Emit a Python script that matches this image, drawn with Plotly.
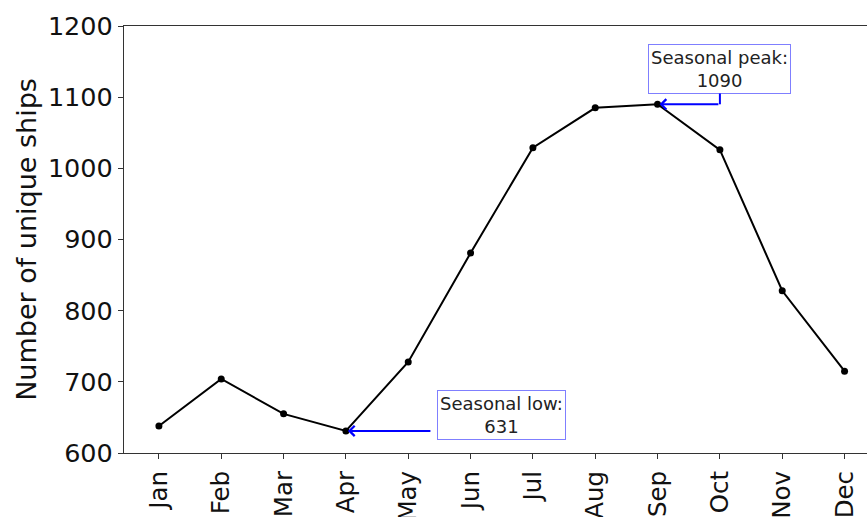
import plotly.graph_objects as go

# Monthly count of unique ships
months = ["Jan", "Feb", "Mar", "Apr", "May", "Jun", "Jul", "Aug", "Sep", "Oct", "Nov", "Dec"]
ships = [638, 704, 655, 631, 728, 881, 1029, 1085, 1090, 1026, 828, 715]
y_ticks = [600, 700, 800, 900, 1000, 1100, 1200]

low_idx = ships.index(min(ships))
peak_idx = ships.index(max(ships))

FONT = "DejaVu Sans"
x = list(range(len(months)))

fig = go.Figure()
fig.add_trace(go.Scatter(
    x=x, y=ships, mode="lines+markers",
    line=dict(color="black", width=2),
    marker=dict(color="black", size=7),
    showlegend=False, hoverinfo="skip",
))

box_style = dict(
    font=dict(family=FONT, size=18, color="#222"),
    bgcolor="white", bordercolor="rgba(0,0,255,0.5)", borderwidth=1,
    borderpad=2, showarrow=False, xref="x", yref="y",
    xanchor="center", yanchor="middle", align="center",
)

# Seasonal peak: label box above-right, elbow arrow down and left to the point
peak_box_x = peak_idx + 1
fig.add_annotation(x=peak_box_x, y=1139,
                   text=f"Seasonal peak:<br>{ships[peak_idx]}", **box_style)
fig.add_shape(type="line", xref="x", yref="y",
              x0=peak_box_x, x1=peak_box_x, y0=1106, y1=ships[peak_idx],
              line=dict(color="blue", width=2))
fig.add_annotation(x=peak_idx, y=ships[peak_idx], ax=peak_box_x, ay=ships[peak_idx],
                   xref="x", yref="y", axref="x", ayref="y", text="",
                   showarrow=True, arrowhead=4, arrowsize=1, arrowwidth=2,
                   arrowcolor="blue", standoff=2)

# Seasonal low: label box to the right, straight arrow left to the point
fig.add_annotation(x=low_idx + 2.5, y=654,
                   text=f"Seasonal low:<br>{ships[low_idx]}", **box_style)
fig.add_annotation(x=low_idx, y=ships[low_idx], ax=low_idx + 1.38, ay=ships[low_idx],
                   xref="x", yref="y", axref="x", ayref="y", text="",
                   showarrow=True, arrowhead=4, arrowsize=1, arrowwidth=2,
                   arrowcolor="blue", standoff=2)

axis_common = dict(
    showgrid=False, zeroline=False, showline=True, linecolor="#333", linewidth=1.2,
    ticks="outside", ticklen=5, tickwidth=1.2, tickcolor="#333",
    automargin=False,
)

fig.update_xaxes(
    range=[-0.56, 11.36], tickmode="array", tickvals=x, ticktext=months,
    tickangle=-90, mirror=True, ticklabelstandoff=2,
    tickfont=dict(family=FONT, size=24.5, color="#111"),
    **axis_common,
)
fig.update_yaxes(
    range=[600, 1200], tickmode="array", tickvals=y_ticks,
    tickfont=dict(family=FONT, size=25.5, color="#111"),
    title=dict(text="Number of unique ships", font=dict(family=FONT, size=27, color="#111"),
               standoff=3),
    **axis_common,
)

fig.update_layout(
    width=867, height=517,
    margin=dict(l=124, r=0, t=26, b=64),
    plot_bgcolor="white", paper_bgcolor="white",
)

fig.write_html("out.html")
